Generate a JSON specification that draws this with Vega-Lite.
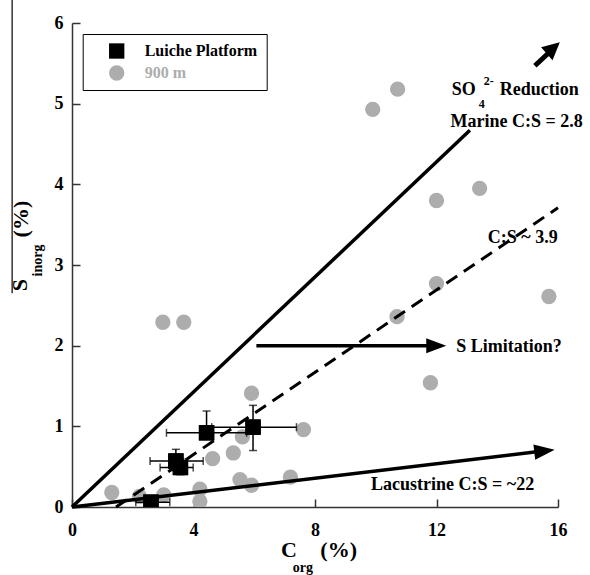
{
  "$schema": "https://vega.github.io/schema/vega-lite/v6.json",
  "width": 486,
  "height": 484,
  "autosize": {"type": "none"},
  "padding": {"left": 72, "top": 23, "right": 32, "bottom": 68},
  "background": "white",
  "config": {
    "font": "Liberation Serif",
    "view": {"stroke": null},
    "axis": {
      "domainColor": "#333333",
      "domainWidth": 1.5,
      "tickColor": "#333333",
      "tickWidth": 1.5,
      "tickSize": -8,
      "labelFont": "Liberation Serif",
      "labelFontSize": 18,
      "labelFontWeight": "bold",
      "labelColor": "#000000",
      "grid": false,
      "labelFlush": false,
      "labelOverlap": false
    },
    "text": {"font": "Liberation Serif", "fontWeight": "bold", "color": "#000000"}
  },
  "layer": [
    {
      "data": {"values": [
        {"series": "900 m", "c": 9.9, "s": 4.93},
        {"series": "900 m", "c": 10.72, "s": 5.18},
        {"series": "900 m", "c": 12.0, "s": 3.8},
        {"series": "900 m", "c": 13.42, "s": 3.95},
        {"series": "900 m", "c": 12.0, "s": 2.77},
        {"series": "900 m", "c": 10.7, "s": 2.36},
        {"series": "900 m", "c": 15.7, "s": 2.61},
        {"series": "900 m", "c": 11.8, "s": 1.54},
        {"series": "900 m", "c": 2.99, "s": 2.29},
        {"series": "900 m", "c": 3.68, "s": 2.29},
        {"series": "900 m", "c": 5.91, "s": 1.41},
        {"series": "900 m", "c": 5.61, "s": 0.87},
        {"series": "900 m", "c": 7.62, "s": 0.96},
        {"series": "900 m", "c": 5.31, "s": 0.67},
        {"series": "900 m", "c": 4.63, "s": 0.6},
        {"series": "900 m", "c": 5.53, "s": 0.34},
        {"series": "900 m", "c": 5.91, "s": 0.27},
        {"series": "900 m", "c": 7.19, "s": 0.37},
        {"series": "900 m", "c": 1.31, "s": 0.18},
        {"series": "900 m", "c": 2.22, "s": 0.13},
        {"series": "900 m", "c": 3.02, "s": 0.15},
        {"series": "900 m", "c": 4.21, "s": 0.22},
        {"series": "900 m", "c": 4.21, "s": 0.07},
        {"series": "Luiche Platform", "c": 4.43, "s": 0.92},
        {"series": "Luiche Platform", "c": 5.96, "s": 0.99},
        {"series": "Luiche Platform", "c": 3.42, "s": 0.57},
        {"series": "Luiche Platform", "c": 3.57, "s": 0.49},
        {"series": "Luiche Platform", "c": 2.6, "s": 0.06}
      ]},
      "layer": [
        {
          "mark": {"type": "point", "filled": true, "opacity": 1, "size": 235, "clip": true},
          "encoding": {
            "x": {
              "field": "c", "type": "quantitative",
              "scale": {"domain": [0, 16], "nice": false, "zero": false},
              "axis": {"title": null, "values": [0, 4, 8, 12, 16], "format": "d", "labelPadding": 22}
            },
            "y": {
              "field": "s", "type": "quantitative",
              "scale": {"domain": [0, 6], "nice": false, "zero": false},
              "axis": {"title": null, "values": [0, 1, 2, 3, 4, 5, 6], "format": "d", "labelPadding": 17}
            },
            "color": {
              "field": "series", "type": "nominal",
              "scale": {"domain": ["Luiche Platform", "900 m"], "range": ["#000000", "#adadad"]},
              "legend": {
                "title": null,
                "orient": "none",
                "legendX": 10.7,
                "legendY": 11,
                "direction": "vertical",
                "strokeColor": "#000000",
                "fillColor": "#ffffff",
                "padding": 9,
                "symbolOffset": 17,
                "labelOffset": 20,
                "rowPadding": 6,
                "labelFont": "Liberation Serif",
                "labelFontSize": 16,
                "labelFontWeight": "bold",
                "labelColor": {"expr": "datum.label === '900 m' ? '#adadad' : '#000000'"},
                "symbolSize": 235,
                "symbolStrokeWidth": 0
              }
            },
            "shape": {
              "field": "series", "type": "nominal",
              "scale": {"domain": ["Luiche Platform", "900 m"], "range": ["square", "circle"]}
            }
          }
        }
      ]
    },
    {
      "data": {"values": [{"x": -1.97, "y": 2.65, "y2": 6.3}]},
      "mark": {"type": "rule", "clip": false, "strokeWidth": 1.5, "color": "#333333"},
      "encoding": {
        "x": {"field": "x", "type": "quantitative", "title": null},
        "y": {"field": "y", "type": "quantitative", "title": null},
        "y2": {"field": "y2"}
      }
    },
    {
      "data": {"values": [
        {"id": "A", "y": 0.92, "xlo": 3.11, "xhi": 5.75},
        {"id": "B", "y": 0.99, "xlo": 4.6, "xhi": 7.39},
        {"id": "C1", "y": 0.57, "xlo": 2.57, "xhi": 4.32},
        {"id": "C2", "y": 0.49, "xlo": 2.9, "xhi": 3.99},
        {"id": "E", "y": 0.06, "xlo": 2.1, "xhi": 3.22}
      ]},
      "mark": {"type": "errorbar", "color": "#000000", "thickness": 1.5, "ticks": {"size": 8, "thickness": 1.5, "color": "#000000"}},
      "encoding": {
        "x": {"field": "xlo", "type": "quantitative", "title": null},
        "x2": {"field": "xhi"},
        "y": {"field": "y", "type": "quantitative", "title": null}
      }
    },
    {
      "data": {"values": [
        {"id": "A", "x": 4.43, "ylo": 0.85, "yhi": 1.19},
        {"id": "B", "x": 5.96, "ylo": 0.7, "yhi": 1.26},
        {"id": "C1", "x": 3.42, "ylo": 0.45, "yhi": 0.715},
        {"id": "C2", "x": 3.57, "ylo": 0.4, "yhi": 0.6}
      ]},
      "mark": {"type": "errorbar", "color": "#000000", "thickness": 1.5, "ticks": {"size": 8, "thickness": 1.5, "color": "#000000"}},
      "encoding": {
        "x": {"field": "x", "type": "quantitative", "title": null},
        "y": {"field": "ylo", "type": "quantitative", "title": null},
        "y2": {"field": "yhi"}
      }
    },
    {
      "data": {"values": [
        {"series": "Luiche Platform", "c": 4.43, "s": 0.92},
        {"series": "Luiche Platform", "c": 5.96, "s": 0.99},
        {"series": "Luiche Platform", "c": 3.42, "s": 0.57},
        {"series": "Luiche Platform", "c": 3.57, "s": 0.49},
        {"series": "Luiche Platform", "c": 2.6, "s": 0.06}
      ]},
      "mark": {"type": "square", "filled": true, "opacity": 1, "size": 240, "clip": true, "color": "#000000"},
      "encoding": {
        "x": {"field": "c", "type": "quantitative", "title": null},
        "y": {"field": "s", "type": "quantitative", "title": null}
      }
    },
    {
      "data": {"values": [
        {"line": "Marine C:S 2.8", "x": 0, "y": 0, "x2": 13.1, "y2": 4.67},
        {"line": "Lacustrine", "x": 0, "y": 0, "x2": 15.5, "y2": 0.693},
        {"line": "S Limitation", "x": 6.07, "y": 2.0, "x2": 11.9, "y2": 2.0}
      ]},
      "mark": {"type": "rule", "clip": false, "strokeWidth": 3.5, "color": "#000000"},
      "encoding": {
        "x": {"field": "x", "type": "quantitative", "title": null},
        "y": {"field": "y", "type": "quantitative", "title": null},
        "x2": {"field": "x2"},
        "y2": {"field": "y2"}
      }
    },
    {
      "data": {"values": [{"line": "SO4 arrow", "x": 15.24, "y": 5.47, "x2": 15.75, "y2": 5.65}]},
      "mark": {"type": "rule", "clip": false, "strokeWidth": 5, "color": "#000000"},
      "encoding": {
        "x": {"field": "x", "type": "quantitative", "title": null},
        "y": {"field": "y", "type": "quantitative", "title": null},
        "x2": {"field": "x2"},
        "y2": {"field": "y2"}
      }
    },
    {
      "data": {"values": [{"line": "C:S 3.9", "x": 1.45, "y": 0, "x2": 16.0, "y2": 3.71}]},
      "mark": {"type": "rule", "clip": false, "strokeWidth": 3, "strokeDash": [13, 8], "color": "#000000"},
      "encoding": {
        "x": {"field": "x", "type": "quantitative", "title": null},
        "y": {"field": "y", "type": "quantitative", "title": null},
        "x2": {"field": "x2"},
        "y2": {"field": "y2"}
      }
    },
    {
      "data": {"values": [{"arrow": "S Limitation", "x": 12.32, "y": 2.0}]},
      "mark": {"type": "point", "filled": true, "opacity": 1, "clip": false, "color": "#000000", "size": 400, "shape": "M0,0L-2,-0.75L-2,0.75Z", "angle": 0},
      "encoding": {
        "x": {"field": "x", "type": "quantitative", "title": null},
        "y": {"field": "y", "type": "quantitative", "title": null}
      }
    },
    {
      "data": {"values": [{"arrow": "Lacustrine", "x": 15.89, "y": 0.71}]},
      "mark": {"type": "point", "filled": true, "opacity": 1, "clip": false, "color": "#000000", "size": 420, "shape": "M0,0L-2,-0.75L-2,0.75Z", "angle": 353.2},
      "encoding": {
        "x": {"field": "x", "type": "quantitative", "title": null},
        "y": {"field": "y", "type": "quantitative", "title": null}
      }
    },
    {
      "data": {"values": [{"arrow": "SO4 reduction", "x": 16.06, "y": 5.76}]},
      "mark": {"type": "point", "filled": true, "opacity": 1, "clip": false, "color": "#000000", "size": 300, "shape": "M0,0L-2,-1L-2,1Z", "angle": 318.8},
      "encoding": {
        "x": {"field": "x", "type": "quantitative", "title": null},
        "y": {"field": "y", "type": "quantitative", "title": null}
      }
    },
    {
      "data": {"values": [
        {"x": 14.64, "y": 4.77, "label": "Marine C:S = 2.8"},
        {"x": 14.84, "y": 3.33, "label": "C:S ~ 3.9"},
        {"x": 12.53, "y": 0.273, "label": "Lacustrine C:S = ~22"}
      ]},
      "mark": {"type": "text", "clip": false, "fontSize": 18, "align": "center", "baseline": "middle"},
      "encoding": {
        "x": {"field": "x", "type": "quantitative", "title": null},
        "y": {"field": "y", "type": "quantitative", "title": null},
        "text": {"field": "label"}
      }
    },
    {
      "data": {"values": [
        {"x": 12.5, "y": 5.17, "label": "SO"},
        {"x": 14.08, "y": 5.17, "label": "Reduction"},
        {"x": 12.65, "y": 1.986, "label": "S Limitation?"}
      ]},
      "mark": {"type": "text", "clip": false, "fontSize": 18, "align": "left", "baseline": "middle"},
      "encoding": {
        "x": {"field": "x", "type": "quantitative", "title": null},
        "y": {"field": "y", "type": "quantitative", "title": null},
        "text": {"field": "label"}
      }
    },
    {
      "data": {"values": [
        {"x": 13.49, "y": 5.0, "label": "4"},
        {"x": 13.72, "y": 5.28, "label": "2-"}
      ]},
      "mark": {"type": "text", "clip": false, "fontSize": 12, "align": "center", "baseline": "middle"},
      "encoding": {
        "x": {"field": "x", "type": "quantitative", "title": null},
        "y": {"field": "y", "type": "quantitative", "title": null},
        "text": {"field": "label"}
      }
    },
    {
      "data": {"values": [
        {"x": 7.14, "y": -0.539, "label": "C"},
        {"x": 8.78, "y": -0.533, "label": "(%)"}
      ]},
      "mark": {"type": "text", "clip": false, "fontSize": 22, "align": "center", "baseline": "middle"},
      "encoding": {
        "x": {"field": "x", "type": "quantitative", "title": null},
        "y": {"field": "y", "type": "quantitative", "title": null},
        "text": {"field": "label"}
      }
    },
    {
      "data": {"values": [{"x": 7.6, "y": -0.76, "label": "org"}]},
      "mark": {"type": "text", "clip": false, "fontSize": 14, "align": "center", "baseline": "middle"},
      "encoding": {
        "x": {"field": "x", "type": "quantitative", "title": null},
        "y": {"field": "y", "type": "quantitative", "title": null},
        "text": {"field": "label"}
      }
    },
    {
      "data": {"values": [
        {"x": -1.727, "y": 2.751, "label": "S"},
        {"x": -1.678, "y": 3.569, "label": "(%)"}
      ]},
      "mark": {"type": "text", "clip": false, "fontSize": 22, "align": "center", "baseline": "middle", "angle": 270},
      "encoding": {
        "x": {"field": "x", "type": "quantitative", "title": null},
        "y": {"field": "y", "type": "quantitative", "title": null},
        "text": {"field": "label"}
      }
    },
    {
      "data": {"values": [{"x": -1.135, "y": 3.055, "label": "inorg"}]},
      "mark": {"type": "text", "clip": false, "fontSize": 14, "align": "center", "baseline": "middle", "angle": 270},
      "encoding": {
        "x": {"field": "x", "type": "quantitative", "title": null},
        "y": {"field": "y", "type": "quantitative", "title": null},
        "text": {"field": "label"}
      }
    }
  ]
}
